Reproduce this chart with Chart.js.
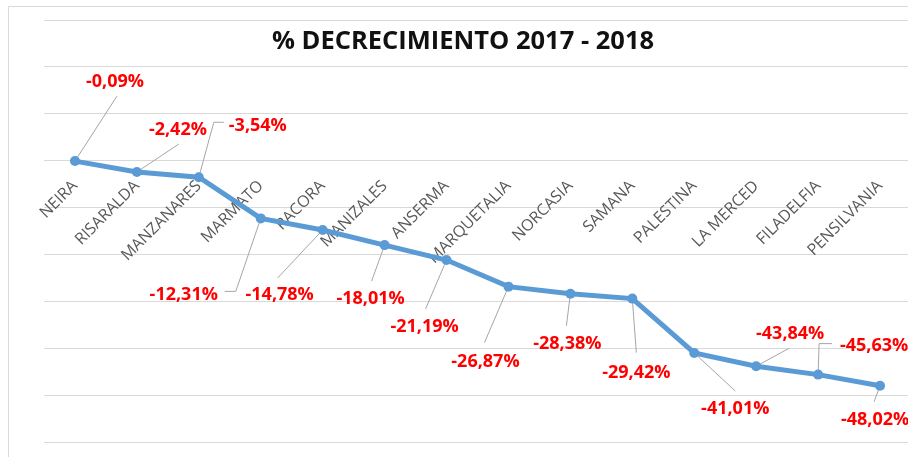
<!DOCTYPE html>
<html>
<head>
<meta charset="utf-8">
<title>% Decrecimiento 2017 - 2018</title>
<script src="https://cdn.jsdelivr.net/npm/chart.js@4.4.1/dist/chart.umd.min.js"></script>
<style>
  html, body { margin: 0; padding: 0; background: #fff; overflow: hidden; }
  #contenedor { position: relative; width: 916px; height: 457px; }
</style>
</head>
<body>
<div id="contenedor"><canvas id="decrecimiento-line-chart"></canvas></div>
<script>
// Datos
var municipios = ['NEIRA', 'RISARALDA', 'MANZANARES', 'MARMATO', 'PACORA', 'MANIZALES', 'ANSERMA',
                  'MARQUETALIA', 'NORCASIA', 'SAMANA', 'PALESTINA', 'LA MERCED', 'FILADELFIA', 'PENSILVANIA'];
var decrecimiento = [-0.09, -2.42, -3.54, -12.31, -14.78, -18.01, -21.19,
                     -26.87, -28.38, -29.42, -41.01, -43.84, -45.63, -48.02];
var tituloGrafico = '% DECRECIMIENTO 2017 - 2018';
var ejeYMin = -60;
var ejeYMax = 30;
var ejeYPaso = 10;

// Posición de cada etiqueta respecto a su punto (centro del texto) y su línea guía
var posEtiquetas = [
  { dx: 40,  dy: -79, guia: [[42, -65]] },
  { dx: 41,  dy: -42, guia: [[42, -28]] },
  { dx: 59,  dy: -51, guia: [[15, -55], [25, -55]] },
  { dx: -77, dy: 76,  guia: [[-25, 73], [-36, 73]] },
  { dx: -43, dy: 65,  guia: [[-45, 48]] },
  { dx: -14, dy: 54,  guia: [[-13, 36]] },
  { dx: -22, dy: 67,  guia: [[-21, 49]] },
  { dx: -23, dy: 75,  guia: [[-24, 56]] },
  { dx: -3,  dy: 50,  guia: [[-4, 32]] },
  { dx: 4,   dy: 74,  guia: [[4, 54]] },
  { dx: 41,  dy: 56,  guia: [[41, 38]] },
  { dx: 34,  dy: -32, guia: [[33, -18]] },
  { dx: 56,  dy: -29, guia: [[1, -31], [14, -31]] },
  { dx: -5,  dy: 34,  guia: [[-6, 16]] }
];

function formatoPorcentaje(valor) {
  return valor.toFixed(2).replace('.', ',') + '%';
}

// Marco, título y etiquetas de datos
var marcoYTitulo = {
  id: 'marcoYTitulo',
  beforeDraw: function(chart) {
    var ctx = chart.ctx;
    ctx.save();
    ctx.fillStyle = '#fff';
    ctx.fillRect(0, 0, chart.width, chart.height);
    ctx.strokeStyle = '#d9d9d9';
    ctx.lineWidth = 1;
    ctx.beginPath();
    ctx.moveTo(8.5, chart.height);
    ctx.lineTo(8.5, 6.5);
    ctx.lineTo(chart.width, 6.5);
    ctx.stroke();
    ctx.restore();
  },
  beforeDatasetsDraw: function(chart) {
    var ctx = chart.ctx;
    var puntos = chart.getDatasetMeta(0).data;
    ctx.save();
    ctx.strokeStyle = '#a6a6a6';
    ctx.lineWidth = 1;
    puntos.forEach(function(p, i) {
      ctx.beginPath();
      ctx.moveTo(p.x, p.y);
      posEtiquetas[i].guia.forEach(function(g) {
        ctx.lineTo(p.x + g[0], p.y + g[1]);
      });
      ctx.stroke();
    });
    ctx.restore();
  },
  afterDatasetsDraw: function(chart) {
    var ctx = chart.ctx;
    var puntos = chart.getDatasetMeta(0).data;
    ctx.save();
    ctx.fillStyle = '#ff0000';
    ctx.font = 'bold 18px "Open Sans"';
    ctx.textAlign = 'center';
    ctx.textBaseline = 'middle';
    puntos.forEach(function(p, i) {
      ctx.fillText(formatoPorcentaje(decrecimiento[i]), p.x + posEtiquetas[i].dx, p.y + posEtiquetas[i].dy);
    });
    // Título
    ctx.fillStyle = '#111';
    ctx.font = 'bold 25.5px "Open Sans"';
    ctx.fillText(tituloGrafico, 463, 42);
    ctx.restore();
  }
};

new Chart(document.getElementById('decrecimiento-line-chart'), {
  type: 'line',
  data: {
    labels: municipios,
    datasets: [
      {
        label: tituloGrafico,
        data: decrecimiento,
        borderColor: '#5b9bd5',
        backgroundColor: '#5b9bd5',
        borderWidth: 5,
        pointRadius: 5,
        pointBorderWidth: 0,
        tension: 0
      }
    ]
  },
  options: {
    responsive: true,
    maintainAspectRatio: false,
    animation: false,
    layout: { padding: { left: 44, top: 20, right: 1, bottom: 15 } },
    plugins: {
      legend: { display: false },
      title: { display: false },
      tooltip: { enabled: false }
    },
    scales: {
      x: {
        position: { y: 0 },
        offset: true,
        grid: { display: false },
        border: { display: false },
        ticks: {
          autoSkip: false,
          minRotation: 45,
          maxRotation: 45,
          padding: 8,
          color: '#595959',
          font: { family: 'Open Sans', size: 16 }
        }
      },
      y: {
        min: ejeYMin,
        max: ejeYMax,
        ticks: { display: false, stepSize: ejeYPaso },
        grid: { color: '#d9d9d9', lineWidth: 1, drawTicks: false },
        border: { display: false }
      }
    }
  },
  plugins: [marcoYTitulo]
});
</script>
</body>
</html>
